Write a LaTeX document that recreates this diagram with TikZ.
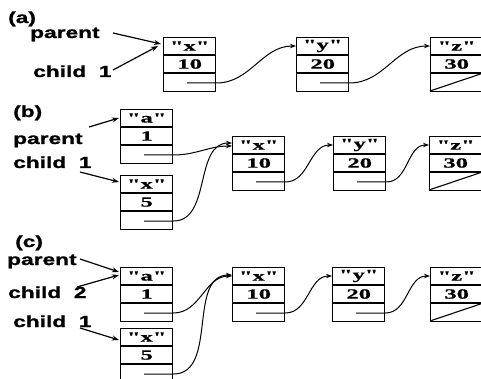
\documentclass[tikz,border=0pt]{standalone}
\usepackage{fontspec}
\setmainfont{Liberation Serif}
\newfontfamily\lblfont[FakeStretch=1.42,FakeBold=1.2]{Liberation Sans}
\newfontfamily\cellfont[FakeStretch=1.75,FakeBold=0.8]{Liberation Serif}
\usetikzlibrary{arrows.meta}
\tikzset{
 lbl/.style={font=\lblfont\bfseries\fontsize{16}{16}\selectfont, anchor=base west, inner sep=0},
 cell/.style={font=\cellfont\bfseries\fontsize{14}{14}\selectfont, inner sep=0},
 llbox/.style={draw, line width=1.4pt, minimum width=52pt, minimum height=54pt, inner sep=0, anchor=north west},
 divider/.style={line width=1.1pt},
 link/.style={line width=1pt, -{Stealth[length=6pt,width=4.5pt]}},
 ptr/.style={line width=1.2pt, -{Stealth[length=7pt,width=5pt]}},
}
\newcommand\llbox[5]{%
 \node[llbox] (#1) at (#2,#3) {};
 \draw[divider] ([yshift=-18pt]#1.north west) -- ([yshift=-18pt]#1.north east)
   ([yshift=-36pt]#1.north west) -- ([yshift=-36pt]#1.north east);
 \node[cell] (#1-k) at ([yshift=-9pt]#1.north) {#4};
 \node[cell] (#1-v) at ([yshift=-27pt]#1.north) {#5};
 \coordinate (#1-in) at ([yshift=-9pt]#1.north west);
 \coordinate (#1-p) at ([xshift=24pt,yshift=-46pt]#1.north west);
 \coordinate (#1-e) at ([yshift=-46pt]#1.north east);
}
\newcommand\nilcell[1]{%
 \draw[divider] ([yshift=-54pt]#1.north west) -- ([yshift=-36pt]#1.north east);
}
\begin{document}
\begin{tikzpicture}[x=1pt,y=-1pt]
\useasboundingbox (0,0) rectangle (481,379);
% ---------- (a) ----------
\node[lbl] (la) at (8,23) {(a)};
\node[lbl] (apar) at (30,38) {parent};
\node[lbl] (ach) at (33,77) {child\ \ 1};
\llbox{ax}{163}{37}{"x"}{10}
\llbox{ay}{296}{37}{"y"}{20}
\llbox{az}{430}{37}{"z"}{30}
\nilcell{az}
\coordinate (apar-s) at (113,33);
\coordinate (ach-s) at (113,70);
\draw[ptr] (apar-s) -- ([xshift=-2pt,yshift=-7pt]ax.north west);
\draw[ptr] (ach-s) -- ([xshift=-5pt,yshift=-9pt]ax.north west);
\draw[link] (ax-p) -- (ax-e) to[out=0,in=180] (ay-in);
\draw[link] (ay-p) -- (ay-e) to[out=0,in=180] (az-in);
% ---------- (b) ----------
\node[lbl] (lb) at (13,117) {(b)};
\node[lbl] (bpar) at (13,144) {parent};
\node[lbl] (bch) at (13,168) {child\ \ 1};
\llbox{ba}{120}{109}{"a"}{1}
\llbox{bc}{120}{175}{"x"}{5}
\llbox{bx}{232}{136}{"x"}{10}
\llbox{by}{333}{136}{"y"}{20}
\llbox{bz}{429}{136}{"z"}{30}
\nilcell{bz}
\coordinate (bpar-s) at (89,127);
\coordinate (bch-s) at (80,172);
\draw[ptr] (bpar-s) -- ([xshift=-1pt,yshift=-9pt]ba.north west);
\draw[ptr] (bch-s) -- ([xshift=-1pt,yshift=-7pt]bc.north west);
\draw[link] (ba-p) -- (ba-e) to[out=0,in=180] ([yshift=-1pt]bx-in);
\draw[link] (bc-p) -- (bc-e) to[out=0,in=180] ([yshift=2pt]bx-in);
\draw[link] (bx-p) -- (bx-e) to[out=0,in=180] (by-in);
\draw[link] (by-p) -- (by-e) to[out=0,in=180] (bz-in);
% ---------- (c) ----------
\node[lbl] (lc) at (15,247) {(c)};
\node[lbl] (cpar) at (7,265) {parent};
\node[lbl] (cch2) at (8,298) {child\ \ 2};
\node[lbl] (cch1) at (13,327) {child\ \ 1};
\llbox{ca}{120}{267}{"a"}{1}
\llbox{cc}{120}{328}{"x"}{5}
\llbox{cx}{232}{267}{"x"}{10}
\llbox{cy}{332}{267}{"y"}{20}
\llbox{cz}{430}{267}{"z"}{30}
\nilcell{cz}
\coordinate (cpar-s) at (80,259);
\coordinate (cch2-s) at (77,287);
\coordinate (cch1-s) at (80,328);
\draw[ptr] (cpar-s) -- ([xshift=-1pt,yshift=-5pt]ca.north west);
\draw[ptr] (cch2-s) -- ([xshift=-1pt,yshift=-8pt]ca.north west);
\draw[ptr] (cch1-s) -- ([xshift=-1pt,yshift=-12pt]cc.north west);
\draw[link] (ca-p) -- (ca-e) to[out=0,in=180] (cx-in);
\draw[link] (cc-p) -- (cc-e) to[out=0,in=180] ([yshift=1pt]cx-in);
\draw[link] (cx-p) -- (cx-e) to[out=0,in=180] (cy-in);
\draw[link] (cy-p) -- (cy-e) to[out=0,in=180] (cz-in);
\end{tikzpicture}
\end{document}
